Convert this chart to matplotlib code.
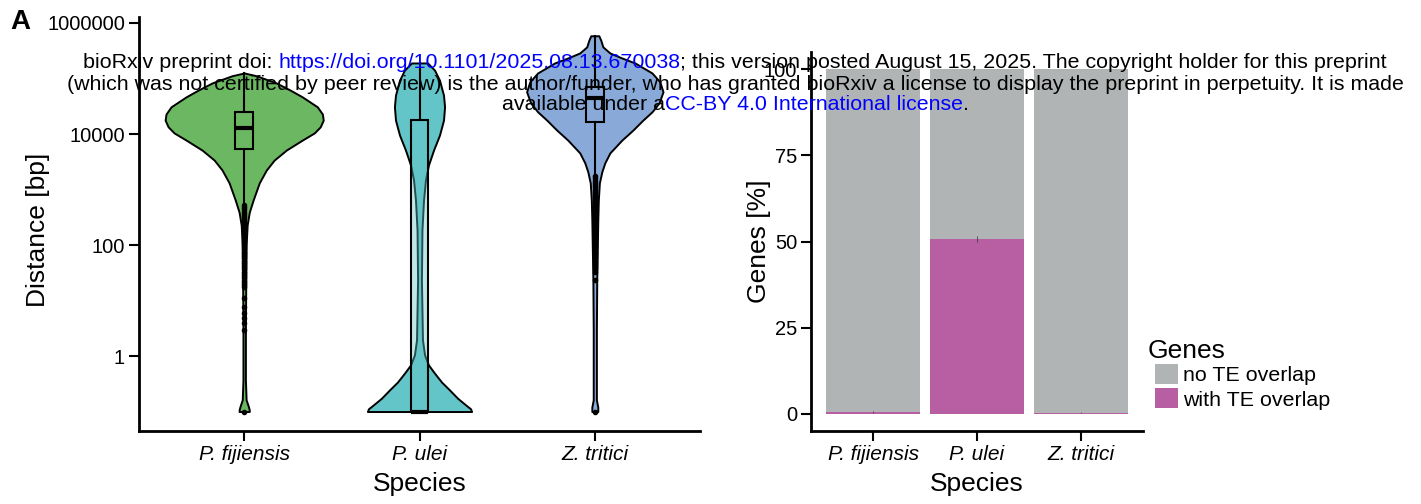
import matplotlib
matplotlib.use("Agg")
import matplotlib.pyplot as plt
import numpy
from matplotlib.patches import Patch

plt.rcParams['font.family'] = ['Liberation Sans', 'DejaVu Sans']

species = ["P. fijiensis", "P. ulei", "Z. tritici"]
violin_colors = ["#6cb862", "#63c5c7", "#89aad8"]

# violin outlines: log10(distance) levels and half widths
fij_levels = [5.10, 5.05, 4.92, 4.79, 4.67, 4.49, 4.36, 4.25, 4.13, 4.02, 3.89, 3.71, 3.53,
              3.35, 3.12, 2.81, 2.59, 2.36, 2.00, 1.37, 0.47, -0.43, -0.79, -0.90, -0.97, -1.0]
fij_halfw = [0.0, 0.069, 0.183, 0.263, 0.331, 0.417, 0.446, 0.451, 0.434, 0.40, 0.331, 0.24, 0.171,
             0.126, 0.086, 0.051, 0.029, 0.017, 0.011, 0.009, 0.007, 0.007, 0.011, 0.023, 0.029, 0.029]
ulei_levels = [5.28, 5.15, 4.97, 4.70, 4.49, 4.25, 3.98, 3.71, 3.44, 3.17, 2.81, 2.27, 1.37,
               0.29, 0.02, -0.16, -0.31, -0.47, -0.61, -0.76, -0.88, -0.95, -1.0]
ulei_halfw = [0.046, 0.086, 0.114, 0.137, 0.143, 0.137, 0.114, 0.08, 0.051, 0.034, 0.023, 0.014, 0.011,
              0.017, 0.029, 0.051, 0.086, 0.126, 0.171, 0.217, 0.263, 0.291, 0.297]
zt_levels = [5.77, 5.69, 5.57, 5.46, 5.37, 5.28, 5.10, 4.94, 4.76, 4.56, 4.40, 4.25, 4.07, 3.89,
             3.66, 3.48, 3.32, 3.12, 2.81, 2.45, 1.91, 1.37, 0.47, -0.43, -0.79, -0.92, -1.0]
zt_halfw = [0.023, 0.034, 0.046, 0.086, 0.154, 0.229, 0.326, 0.371, 0.389, 0.366, 0.326, 0.274, 0.217,
            0.154, 0.086, 0.057, 0.04, 0.026, 0.02, 0.017, 0.014, 0.011, 0.009, 0.009, 0.009, 0.017, 0.017]

# box statistics (log10 distance)
box_q1 = [3.73, -1.0, 4.22]
box_med = [4.11, -1.0, 4.65]
box_q3 = [4.40, 4.25, 4.85]
box_lo = [2.75, -1.0, 3.27]
box_hi = [5.10, 5.28, 5.77]
fij_out = [2.72, 2.68, 2.64, 2.60, 2.56, 2.52, 2.48, 2.44, 2.40, 2.36, 2.32, 2.28, 2.24, 2.20, 2.16,
           2.12, 2.08, 2.04, 2.00, 1.96, 1.92, 1.88, 1.84, 1.80, 1.76, 1.72, 1.68, 1.64, 1.60, 1.56,
           1.52, 1.48, 1.44, 1.40, 1.36, 1.32, 1.28, 1.24, 1.05, 0.88, 0.77, 0.68, 0.59, 0.47, -1.0]
ulei_out = []
zt_out = [3.24, 3.20, 3.16, 3.12, 3.08, 3.04, 3.00, 2.96, 2.92, 2.88, 2.84, 2.80, 2.76, 2.72, 2.68,
          2.64, 2.60, 2.56, 2.52, 2.48, 2.44, 2.40, 2.36, 2.32, 2.28, 2.24, 2.20, 2.16, 2.12, 2.08,
          2.04, 2.00, 1.96, 1.92, 1.88, 1.84, 1.80, 1.76, 1.72, 1.68, 1.64, 1.60, 1.56, 1.52, 1.37, -1.0]

# right panel: percent of genes
with_te = [0.6, 50.8, 0.3]
no_te = [99.4, 49.2, 99.7]
with_te_err = [0.3, 0.8, 0.1]
bar_colors = {"no TE overlap": "#b1b4b4", "with TE overlap": "#b85ea2"}

W, H = 1421, 504
fig = plt.figure(figsize=(W / 100, H / 100), dpi=100)
ax1 = fig.add_axes([139 / W, (H - 431) / H, (700 - 139) / W, (431 - 17) / H])
ax2 = fig.add_axes([811 / W, (H - 431) / H, (1143 - 811) / W, (431 - 52) / H])

violins = [(fij_levels, fij_halfw), (ulei_levels, ulei_halfw), (zt_levels, zt_halfw)]
for i, (lv, hw) in enumerate(violins):
    y = 10 ** numpy.array(lv)
    hw = numpy.array(hw)
    ax1.fill_betweenx(y, i - hw, i + hw, facecolor=violin_colors[i], edgecolor="black",
                      linewidth=1.4, zorder=2)

# whiskers, medians and outliers from the box stats
outs = [fij_out, ulei_out, zt_out]
stats = []
for i in range(3):
    stats.append(dict(med=10 ** box_med[i], q1=10 ** box_q1[i], q3=10 ** box_q3[i],
                      whislo=10 ** box_lo[i], whishi=10 ** box_hi[i],
                      fliers=10 ** numpy.array(outs[i]) if outs[i] else []))
ax1.bxp(stats, positions=[0, 1, 2], widths=0.1, showbox=False, showcaps=False,
        whiskerprops=dict(color="black", linewidth=1.5),
        medianprops=dict(color="black", linewidth=3, zorder=5),
        flierprops=dict(marker="o", markersize=3, markerfacecolor="black",
                        markeredgecolor="black"),
        manage_ticks=False, zorder=3)
# translucent boxes on top of the violins
q1 = 10 ** numpy.array(box_q1)
q3 = 10 ** numpy.array(box_q3)
ax1.bar([0, 1, 2], q3 - q1, bottom=q1, width=0.1,
        color=[matplotlib.colors.to_rgba(c, 0.4) for c in violin_colors],
        edgecolor="black", linewidth=1.5, zorder=4)

ax1.set_yscale("log")
ax1.set_ylim(10 ** -1.351, 10 ** 6.108)
ax1.set_xlim(-0.6, 2.6)
ax1.yaxis.set_major_locator(matplotlib.ticker.FixedLocator([1, 100, 1e4, 1e6]))
ax1.yaxis.set_major_formatter(matplotlib.ticker.FixedFormatter(["1", "100", "10000", "1000000"]))
ax1.yaxis.set_minor_locator(matplotlib.ticker.NullLocator())
ax1.set_xticks([0, 1, 2])
ax1.set_xticklabels(species, fontstyle="italic", fontsize=15)
ax1.set_ylabel("Distance [bp]", fontsize=19)
ax1.set_xlabel("Species", fontsize=19)
ax1.yaxis.set_label_coords(-0.158, 0.485)
ax1.xaxis.set_label_coords(0.5, -0.100)

x = numpy.arange(3)
ax2.bar(x, with_te, width=0.91, color=bar_colors["with TE overlap"], zorder=2)
ax2.bar(x, no_te, width=0.91, bottom=with_te, color=bar_colors["no TE overlap"], zorder=2)
ax2.errorbar(x, with_te, yerr=with_te_err, fmt="none", ecolor="#444444", elinewidth=0.6, zorder=3)
ax2.set_xlim(-0.6, 2.6)
ax2.set_ylim(-5, 105)
ax2.set_yticks([0, 25, 50, 75, 100])
ax2.set_xticks(x)
ax2.set_xticklabels(species, fontstyle="italic", fontsize=15)
ax2.set_ylabel("Genes [%]", fontsize=19)
ax2.set_xlabel("Species", fontsize=19)
ax2.yaxis.set_label_coords(-0.12, 0.5)
ax2.xaxis.set_label_coords(0.5, -0.109)

for ax in (ax1, ax2):
    for s in ("top", "right"):
        ax.spines[s].set_visible(False)
    for s in ("left", "bottom"):
        ax.spines[s].set_linewidth(2)
    ax.tick_params(axis="both", length=7, width=1.5, colors="black", labelsize=14.5, pad=3)
    ax.tick_params(axis="x", labelsize=15)

# legend: keys indented under the title as in ggplot
handles = [Patch(facecolor=c, edgecolor="none") for c in bar_colors.values()]
leg = fig.legend(handles, list(bar_colors.keys()), loc="upper left",
                 bbox_to_anchor=(1155 / W, 1 - 364 / H), frameon=False, fontsize=15.4,
                 handlelength=1.07, handleheight=1.07, labelspacing=0.14,
                 handletextpad=0.23, borderpad=0, borderaxespad=0)
fig.text(1148 / W, 1 - 358 / H, "Genes", fontsize=19, ha="left", va="baseline")

fig.text(10 / W, 1 - 22 / H, "A", fontsize=20, fontweight="bold", va="center", ha="left")

# bioRxiv watermark, with blue links
renderer = fig.canvas.get_renderer()


def text_width(s, fs):
    t = fig.text(0, 0, s + "|", fontsize=fs)
    bar = fig.text(0, 0, "|", fontsize=fs)
    w = t.get_window_extent(renderer).width - bar.get_window_extent(renderer).width
    t.remove()
    bar.remove()
    return w


blue = "#0000ff"
lines = [
    [("bioRxiv preprint doi: ", "black"), ("https://doi.org/10.1101/2025.08.13.670038", blue),
     ("; this version posted August 15, 2025. The copyright holder for this preprint", "black")],
    [("(which was not certified by peer review) is the author/funder, who has granted bioRxiv a "
      "license to display the preprint in perpetuity. It is made", "black")],
    [("available under a", "black"), ("CC-BY 4.0 International license", blue), (".", "black")],
]
first = "".join(s for s, _ in lines[0])
wm_fs = 10 * 1302 / text_width(first, 10)
line_y = [62, 84, 105]
center_x = 735
for segs, ly in zip(lines, line_y):
    total = text_width("".join(s for s, _ in segs), wm_fs)
    x0 = center_x - total / 2
    prefix = ""
    for s, c in segs:
        px = x0 + (text_width(prefix, wm_fs) if prefix else 0)
        fig.text(px / W, 1 - ly / H, s, fontsize=wm_fs, color=c, ha="left", va="center", zorder=10)
        prefix += s

fig.savefig("out.png", dpi=100)
